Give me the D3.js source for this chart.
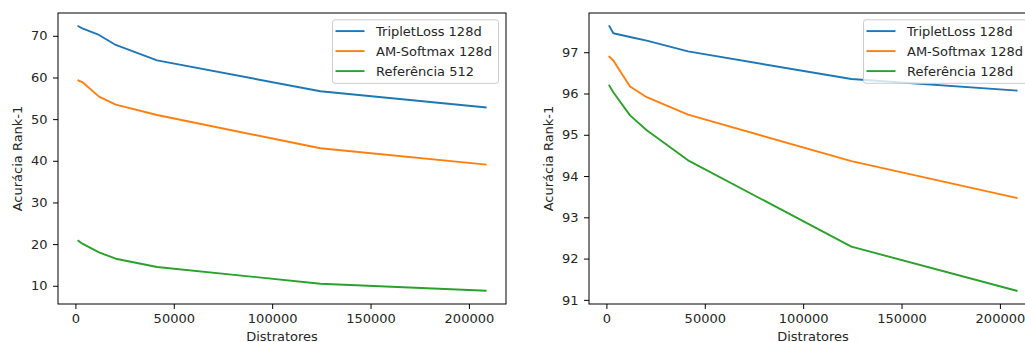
<!DOCTYPE html>
<html><head><meta charset="utf-8">
<script src="https://cdn.jsdelivr.net/npm/d3@7"></script>
<style>
body{margin:0;background:#fff;}
svg{display:block;font-family:"DejaVu Sans",sans-serif;}
</style></head>
<body><svg id="c" width="1025" height="342"></svg>
<script>
// Number of distractors (x values)
const distractors = [1500, 3500, 12000, 20500, 41500, 124500, 208500];

// Left panel series
const leftLabels = ["TripletLoss 128d", "AM-Softmax 128d", "Referência 512"];
const leftTriplet = [72.3, 71.8, 70.2, 67.8, 64.1, 56.7, 52.8];
const leftAMSoftmax = [59.3, 58.9, 55.4, 53.5, 51.0, 43.0, 39.1];
const leftReferencia = [20.8, 20.1, 18.0, 16.5, 14.5, 10.5, 8.8];

// Right panel series
const rightLabels = ["TripletLoss 128d", "AM-Softmax 128d", "Referência 128d"];
const rightTriplet = [97.63, 97.46, 97.37, 97.28, 97.02, 96.35, 96.07];
const rightAMSoftmax = [96.89, 96.80, 96.17, 95.91, 95.49, 94.36, 93.47];
const rightReferencia = [96.19, 96.03, 95.47, 95.11, 94.38, 92.29, 91.22];

// Tick values
const xTicks = [0, 50000, 100000, 150000, 200000];
const leftYTicks = [10, 20, 30, 40, 50, 60, 70];
const rightYTicks = [91, 92, 93, 94, 95, 96, 97];

const xLabel = "Distratores";
const yLabel = "Acurácia Rank-1";
const colors = ["#1f77b4", "#ff7f0e", "#2ca02c"];

const svg = d3.select("#c");
const FS = 13;

function padDomain(vals){
  const mn = d3.min(vals), mx = d3.max(vals), m = (mx-mn)*0.05;
  return [mn-m, mx+m];
}

function panel(left, series, labels, yTicks){
  const top = 13, bottom = 304, width = 448;
  const x = d3.scaleLinear().domain(padDomain(distractors)).range([left, left+width]);
  const y = d3.scaleLinear().domain(padDomain(series.flat())).range([bottom, top]);
  const g = svg.append("g");

  const line = d3.line().x((d,i)=>x(distractors[i])).y(d=>y(d));
  series.forEach((s,k)=>{
    g.append("path").datum(s).attr("d", line).attr("fill","none")
      .attr("stroke", colors[k]).attr("stroke-width", 1.9)
      .attr("stroke-linejoin","round").attr("stroke-linecap","square");
  });

  // frame
  g.append("rect").attr("x", left).attr("y", top).attr("width", width).attr("height", bottom-top)
    .attr("fill","none").attr("stroke","#000").attr("stroke-width",1);

  const ax = g.append("g").attr("transform", `translate(0,${bottom})`)
    .call(d3.axisBottom(x).tickValues(xTicks).tickFormat(d3.format("d")).tickSize(5).tickPadding(4.5));
  const ay = g.append("g").attr("transform", `translate(${left},0)`)
    .call(d3.axisLeft(y).tickValues(yTicks).tickFormat(d3.format("d")).tickSize(5).tickPadding(5.5));
  [ax, ay].forEach(a=>{
    a.select(".domain").remove();
    a.selectAll("line").attr("stroke","#000");
    a.selectAll("text").attr("fill","#262626").style("font-size", FS+"px").style("font-family","DejaVu Sans");
  });

  g.append("text").attr("x", left+width/2).attr("y", 340.5).attr("text-anchor","middle")
    .attr("fill","#262626").style("font-size", FS+"px").text(xLabel);
  g.append("text").attr("transform", `translate(${left-41},${(top+bottom)/2}) rotate(-90)`)
    .attr("text-anchor","middle").attr("dy","0.35em")
    .attr("fill","#262626").style("font-size", FS+"px").text(yLabel);

  // legend
  const lw = 166, lh = 63.5;
  const lx = left + width - 7.5 - lw, ly = 19.8;
  const lg = g.append("g");
  lg.append("rect").attr("x", lx).attr("y", ly).attr("width", lw).attr("height", lh)
    .attr("rx", 2.5).attr("fill","#fff").attr("fill-opacity",0.8)
    .attr("stroke","#cccccc").attr("stroke-width",1);
  labels.forEach((t,k)=>{
    const yy = ly + 11.3 + k*20;
    lg.append("line").attr("x1", lx+3).attr("x2", lx+32).attr("y1", yy).attr("y2", yy)
      .attr("stroke", colors[k]).attr("stroke-width", 1.9);
    lg.append("text").attr("x", lx+43.5).attr("y", yy).attr("dy","0.35em")
      .attr("fill","#262626").style("font-size", FS+"px").text(t);
  });
}

panel(58, [leftTriplet, leftAMSoftmax, leftReferencia], leftLabels, leftYTicks);
panel(589, [rightTriplet, rightAMSoftmax, rightReferencia], rightLabels, rightYTicks);
</script></body></html>
